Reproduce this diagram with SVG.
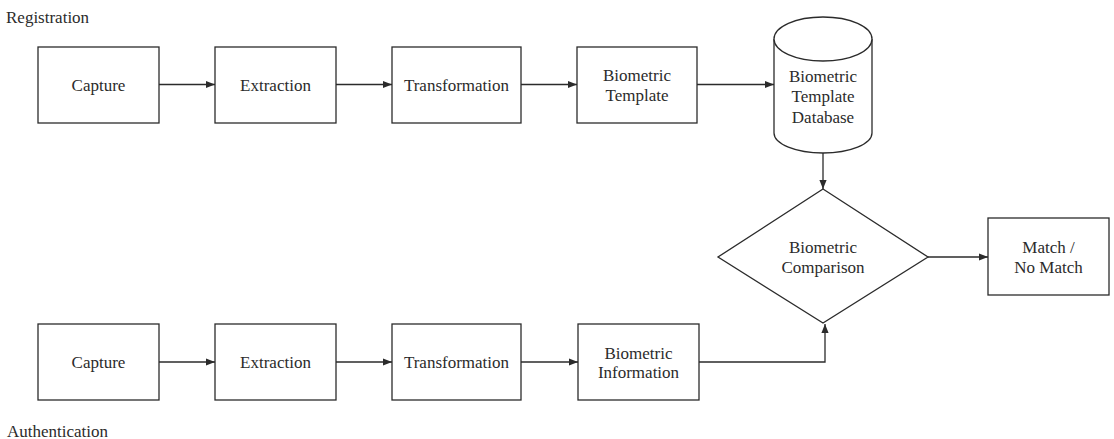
<svg xmlns="http://www.w3.org/2000/svg" width="1114" height="439" viewBox="0 0 1114 439">
  <style>
    .shape { fill: #ffffff; stroke: #2b2b2b; stroke-width: 1.3; }
    text { font-family: 'Liberation Serif', Tinos, 'DejaVu Serif', serif; font-size: 17px; fill: #2b2b2b; }
    .label { text-anchor: middle; }
    .wire { fill: none; stroke: #2b2b2b; stroke-width: 1.3; marker-end: url(#arrow); }
  </style>
  <defs>
    <marker id="arrow" viewBox="0 0 10 10" refX="10" refY="5" markerWidth="9" markerHeight="9" markerUnits="userSpaceOnUse" orient="auto">
      <path d="M0,1 L10,5 L0,9 Z" fill="#2b2b2b"/>
    </marker>
  </defs>
  <rect width="1114" height="439" fill="#ffffff"/>

  <g font-family="Liberation Serif, DejaVu Serif, serif">
  <text x="6" y="23">Registration</text>
  <text x="7" y="437">Authentication</text>

  <!-- registration row -->
  <g id="reg-capture">
    <rect class="shape" x="38" y="47" width="121" height="76"/>
    <text class="label" x="98.5" y="91">Capture</text>
  </g>
  <g id="reg-extraction">
    <rect class="shape" x="215" y="47" width="121" height="76"/>
    <text class="label" x="275.5" y="91">Extraction</text>
  </g>
  <g id="reg-transformation">
    <rect class="shape" x="392" y="47" width="129" height="76"/>
    <text class="label" x="456.5" y="91">Transformation</text>
  </g>
  <g id="reg-template">
    <rect class="shape" x="577" y="47" width="120" height="76"/>
    <text class="label" x="637" y="81">Biometric</text>
    <text class="label" x="637" y="100.5">Template</text>
  </g>
  <g id="template-db">
    <path class="shape" d="M774,39 L774,133 A49,20 0 0 0 872,133 L872,39 A49,22 0 0 0 774,39 Z"/>
    <path class="shape" d="M774,39 A49,22 0 0 0 872,39" fill="none"/>
    <text class="label" x="823" y="82">Biometric</text>
    <text class="label" x="823" y="102">Template</text>
    <text class="label" x="823" y="122.5">Database</text>
  </g>

  <!-- comparison and result -->
  <g id="comparison">
    <polygon class="shape" points="823,189 928,257 823,323 718,257"/>
    <text class="label" x="823" y="253">Biometric</text>
    <text class="label" x="823" y="272.5">Comparison</text>
  </g>
  <g id="result">
    <rect class="shape" x="988" y="218" width="121" height="77"/>
    <text class="label" x="1048.5" y="253">Match /</text>
    <text class="label" x="1048.5" y="272.5">No Match</text>
  </g>

  <!-- authentication row -->
  <g id="auth-capture">
    <rect class="shape" x="38" y="324" width="121" height="76"/>
    <text class="label" x="98.5" y="368">Capture</text>
  </g>
  <g id="auth-extraction">
    <rect class="shape" x="215" y="324" width="121" height="76"/>
    <text class="label" x="275.5" y="368">Extraction</text>
  </g>
  <g id="auth-transformation">
    <rect class="shape" x="392" y="324" width="129" height="76"/>
    <text class="label" x="456.5" y="368">Transformation</text>
  </g>
  <g id="auth-information">
    <rect class="shape" x="578" y="324" width="121" height="76"/>
    <text class="label" x="638.5" y="358.5">Biometric</text>
    <text class="label" x="638.5" y="378">Information</text>
  </g>
  </g>

  <g id="connectors">
    <line class="wire" x1="159" y1="84.5" x2="215" y2="84.5"/>
    <line class="wire" x1="336" y1="84.5" x2="392" y2="84.5"/>
    <line class="wire" x1="521" y1="84.5" x2="577" y2="84.5"/>
    <line class="wire" x1="697" y1="84.5" x2="774" y2="84.5"/>
    <line class="wire" x1="823" y1="153" x2="823" y2="189"/>
    <line class="wire" x1="928" y1="257" x2="988" y2="257"/>
    <line class="wire" x1="159" y1="362" x2="215" y2="362"/>
    <line class="wire" x1="336" y1="362" x2="392" y2="362"/>
    <line class="wire" x1="521" y1="362" x2="578" y2="362"/>
    <polyline class="wire" points="699,362 825,362 825,324"/>
  </g>
</svg>
